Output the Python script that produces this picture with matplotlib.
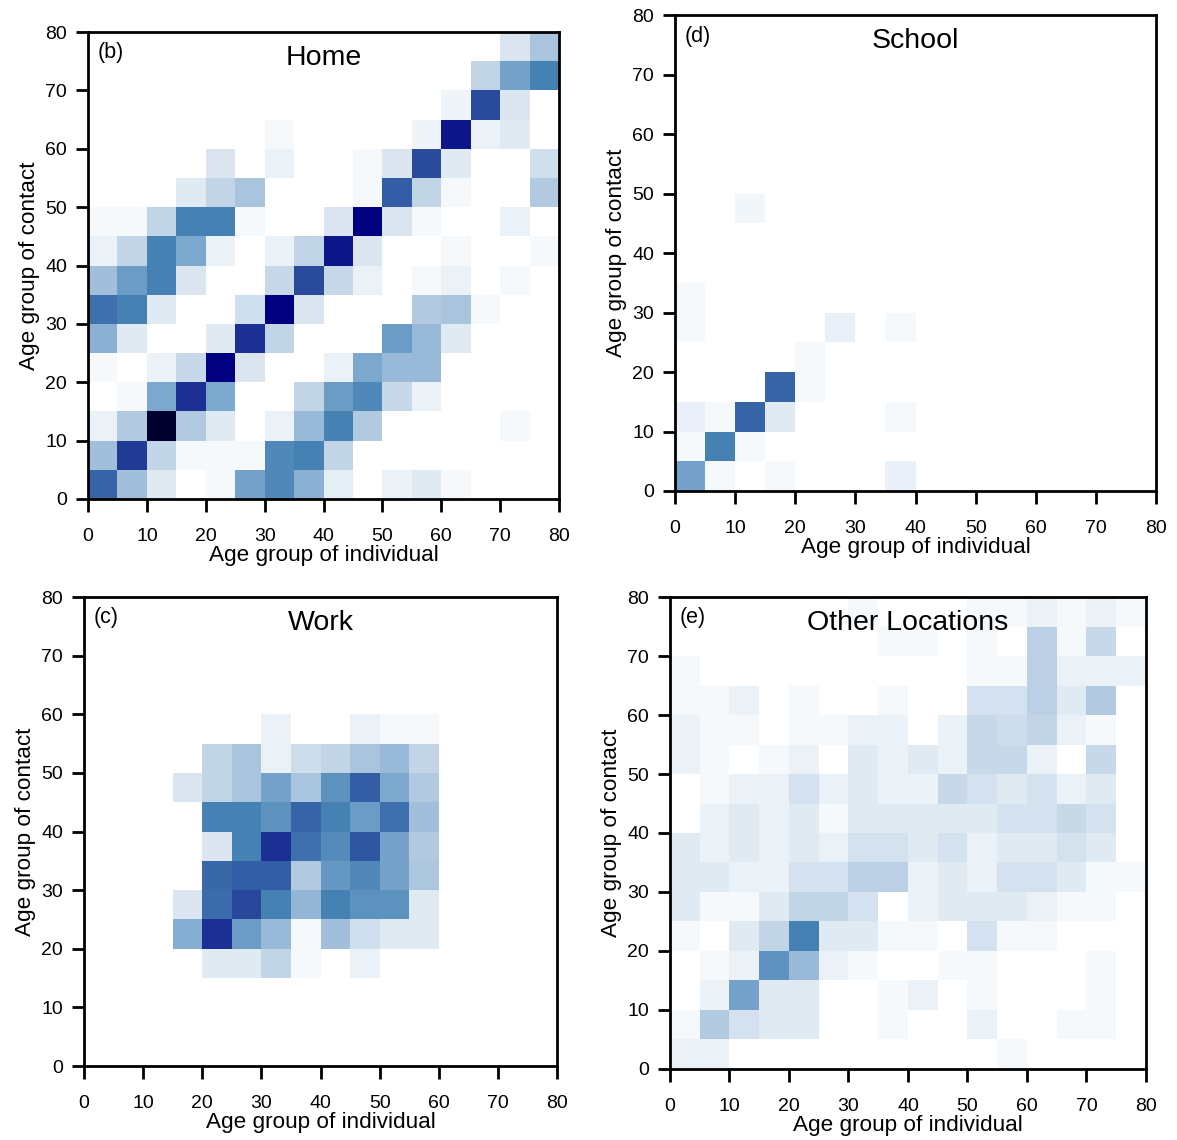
import matplotlib
matplotlib.use("Agg")
import matplotlib.pyplot as plt
import numpy as np
from matplotlib.colors import LinearSegmentedColormap

plt.rcParams["font.family"] = ["Liberation Sans", "DejaVu Sans"]

# age bins (5-year groups, 0-80)
bins = np.arange(0, 85, 5)
ticks = list(range(0, 90, 10))

# matrices written top row (75-80) first, columns = age of individual 0..75
home = [
    [0, 0, 0, 0, 0, 0, 0, 0, 0, 0, 0, 0, 0, 0, .12, .28],
    [0, 0, 0, 0, 0, 0, 0, 0, 0, 0, 0, 0, 0, .2, .4, .5],
    [0, 0, 0, 0, 0, 0, 0, 0, 0, 0, 0, 0, .05, .65, .12, 0],
    [0, 0, 0, 0, 0, 0, .03, 0, 0, 0, 0, .05, .75, .06, .1, 0],
    [0, 0, 0, 0, .12, 0, .06, 0, 0, .03, .12, .65, .1, 0, 0, .15],
    [0, 0, 0, .1, .2, .28, 0, 0, 0, .03, .6, .2, .03, 0, 0, .25],
    [.03, .03, .2, .5, .5, .03, 0, 0, .12, .8, .12, .03, 0, 0, .06, 0],
    [.06, .2, .5, .38, .06, 0, .06, .2, .75, .12, 0, 0, .03, 0, 0, .03],
    [.3, .42, .5, .12, 0, 0, .18, .65, .18, .06, 0, .03, .06, 0, .03, 0],
    [.55, .5, .1, 0, 0, .15, .8, .12, 0, 0, 0, .25, .28, .03, 0, 0],
    [.35, .1, 0, 0, .1, .7, .2, 0, 0, 0, .42, .32, .1, 0, 0, 0],
    [.03, 0, .06, .18, .8, .12, 0, 0, .06, .38, .32, .32, 0, 0, 0, 0],
    [0, .03, .38, .7, .38, 0, 0, .2, .42, .48, .18, .06, 0, 0, 0, 0],
    [.06, .25, 1.0, .25, .1, 0, .06, .32, .5, .25, 0, 0, 0, 0, .03, 0],
    [.3, .68, .2, .03, .03, .03, .48, .5, .2, 0, 0, 0, 0, 0, 0, 0],
    [.58, .3, .1, 0, .03, .4, .48, .35, .08, 0, .06, .1, .03, 0, 0, 0],
]

school = [
    [0] * 16,
    [0] * 16,
    [0] * 16,
    [0] * 16,
    [0] * 16,
    [0] * 16,
    [0, 0, .04, 0, 0, 0, 0, 0, 0, 0, 0, 0, 0, 0, 0, 0],
    [0] * 16,
    [0] * 16,
    [.03, 0, 0, 0, 0, 0, 0, 0, 0, 0, 0, 0, 0, 0, 0, 0],
    [.03, 0, 0, 0, 0, .07, 0, .03, 0, 0, 0, 0, 0, 0, 0, 0],
    [0, 0, 0, 0, .03, 0, 0, 0, 0, 0, 0, 0, 0, 0, 0, 0],
    [0, 0, 0, .58, .03, 0, 0, 0, 0, 0, 0, 0, 0, 0, 0, 0],
    [.07, .03, .58, .1, 0, 0, 0, .03, 0, 0, 0, 0, 0, 0, 0, 0],
    [.03, .5, .03, 0, 0, 0, 0, 0, 0, 0, 0, 0, 0, 0, 0, 0],
    [.4, .03, 0, .03, 0, 0, 0, .07, 0, 0, 0, 0, 0, 0, 0, 0],
]

work = [
    [0] * 16,
    [0] * 16,
    [0] * 16,
    [0] * 16,
    [0, 0, 0, 0, 0, 0, .06, 0, 0, .06, .03, .03, 0, 0, 0, 0],
    [0, 0, 0, 0, .2, .28, .06, .16, .2, .28, .32, .2, 0, 0, 0, 0],
    [0, 0, 0, .12, .2, .28, .4, .28, .45, .6, .38, .25, 0, 0, 0, 0],
    [0, 0, 0, 0, .5, .5, .45, .58, .5, .42, .55, .3, 0, 0, 0, 0],
    [0, 0, 0, 0, .12, .5, .7, .55, .47, .62, .4, .25, 0, 0, 0, 0],
    [0, 0, 0, 0, .57, .6, .6, .25, .43, .48, .4, .27, 0, 0, 0, 0],
    [0, 0, 0, .12, .56, .66, .5, .33, .5, .45, .45, .1, 0, 0, 0, 0],
    [0, 0, 0, .36, .7, .42, .32, .03, .3, .15, .1, .1, 0, 0, 0, 0],
    [0, 0, 0, 0, .1, .1, .2, .03, 0, .06, 0, 0, 0, 0, 0, 0],
    [0] * 16,
    [0] * 16,
    [0] * 16,
]

other = [
    [0, 0, 0, 0, 0, 0, .03, 0, 0, 0, .03, .03, .06, .03, .06, .03],
    [0, 0, 0, 0, 0, 0, 0, .03, .03, 0, .03, 0, .22, .03, .18, 0],
    [.03, 0, 0, 0, 0, 0, 0, 0, 0, 0, .03, .03, .22, .06, .06, .06],
    [.03, .03, .06, 0, .03, 0, 0, .03, 0, 0, .14, .14, .22, .1, .25, 0],
    [.06, .03, .03, 0, .03, .03, .06, .06, 0, .06, .18, .16, .2, .06, .03, 0],
    [.06, .03, 0, .03, .06, 0, .1, .06, .1, .06, .18, .18, .06, 0, .18, 0],
    [0, .03, .06, .06, .14, .06, .1, .06, .06, .18, .14, .1, .14, .06, .1, 0],
    [0, .06, .1, .06, .1, .03, .1, .1, .1, .1, .1, .14, .14, .18, .14, 0],
    [.1, .06, .1, .06, .1, .06, .14, .14, .1, .14, .06, .1, .1, .14, .1, 0],
    [.1, .1, .06, .06, .14, .14, .22, .22, .06, .1, .06, .14, .14, .1, .03, .03],
    [.1, .03, .03, .1, .2, .2, .14, 0, .06, .1, .1, .1, .06, .03, .03, 0],
    [.03, 0, .1, .2, .5, .1, .1, .03, .03, 0, .14, .03, .03, 0, 0, 0],
    [0, .03, .06, .45, .32, .06, .03, 0, 0, .03, .03, 0, 0, 0, .03, 0],
    [0, .06, .4, .1, .1, 0, 0, .03, .06, 0, .03, 0, 0, 0, .03, 0],
    [.03, .25, .14, .1, .1, 0, 0, .03, 0, 0, .06, 0, 0, .03, .03, 0],
    [.06, .06, 0, 0, 0, 0, 0, 0, 0, 0, 0, .03, 0, 0, 0, 0],
]

cmap = LinearSegmentedColormap.from_list("contact", [
    (0.0, "#ffffff"), (0.03, "#f4f8fb"), (0.12, "#d9e5f0"), (0.28, "#a9c4dd"),
    (0.4, "#74a2cb"), (0.5, "#4682b4"), (0.65, "#2a4a9c"), (0.8, "#000080"),
    (1.0, "#000030")])

panels = [
    ("(b)", "Home", home, [0.0748, 0.5623, 0.4002, 0.4096]),
    ("(d)", "School", school, [0.5735, 0.5693, 0.4087, 0.4175]),
    ("(c)", "Work", work, [0.0714, 0.0649, 0.4019, 0.4114]),
    ("(e)", "Other Locations", other, [0.5692, 0.0623, 0.4044, 0.4140]),
]

fig = plt.figure(figsize=(11.77, 11.40), dpi=100)
for tag, title, mat, pos in panels:
    ax = fig.add_axes(pos)
    data = np.array(mat)[::-1]
    ax.pcolormesh(bins, bins, data, cmap=cmap, vmin=0, vmax=1)
    ax.set_xlim(0, 80)
    ax.set_ylim(0, 80)
    ax.set_xticks(ticks)
    ax.set_yticks(ticks)
    ax.tick_params(direction="out", length=9, width=2, labelsize=14)
    ax.tick_params(axis="x", pad=12)
    ax.tick_params(axis="y", pad=6)
    for sp in ax.spines.values():
        sp.set_linewidth(2)
    ax.set_xlabel("Age group of individual", fontsize=16.2, labelpad=0)
    ax.set_ylabel("Age group of contact", fontsize=16.2, labelpad=4)
    ax.text(0.5, 0.972, title, transform=ax.transAxes, ha="center", va="top", fontsize=20.5)
    ax.text(0.02, 0.978, tag, transform=ax.transAxes, ha="left", va="top", fontsize=15.5)

fig.savefig("out.png", dpi=100)
